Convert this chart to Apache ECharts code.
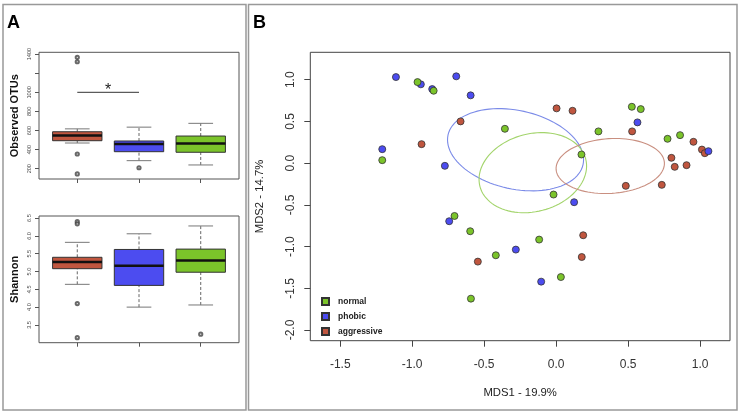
<!DOCTYPE html>
<html>
<head>
<meta charset="utf-8">
<script src="https://cdn.jsdelivr.net/npm/echarts@6/dist/echarts.min.js"></script>
<style>
html, body { margin: 0; padding: 0; background: #fff; }
#chart { width: 740px; height: 416px; }
</style>
</head>
<body>
<div id="chart"></div>
<script>
var dom = document.getElementById('chart');
var myChart = echarts.init(dom, null, { renderer: 'canvas' });

var FONT = '"Liberation Sans", Arial, sans-serif';

// panel A groups, left to right
var groupNames = ['aggressive', 'phobic', 'normal'];
var groupColors = ['#c0563f', '#4c4cf0', '#7bc42a'];

// min, Q1, median, Q3, max
var otusBoxes = [
    [469, 493, 548, 587, 617],
    [284, 378, 459, 490, 635],
    [239, 372, 464, 542, 675]
];
var otusOutliers = [[1366, 1320, 354, 145], [210], []];
var otusTicks = [200, 400, 600, 800, 1000, 1200, 1400];
var sigLine = [1, 2, 1000];

var shannonBoxes = [
    [4.64, 5.08, 5.27, 5.40, 5.82],
    [4.00, 4.61, 5.16, 5.62, 6.06],
    [4.06, 4.98, 5.31, 5.63, 6.28]
];
var shannonOutliers = [[6.40, 6.34, 4.10, 3.14], [], [3.24]];
var shannonTicks = [3.5, 4, 4.5, 5, 5.5, 6, 6.5];

// panel B, MDS coordinates
var normalPts = [
    [-0.963, 0.972], [-0.851, 0.868], [-1.208, 0.036], [0.526, 0.676], [0.588, 0.648],
    [-0.356, 0.412], [0.294, 0.381], [0.774, 0.292], [0.861, 0.336], [0.176, 0.104],
    [-0.018, -0.376], [-0.706, -0.633], [-0.597, -0.816], [-0.419, -1.104], [-0.592, -1.624],
    [-0.118, -0.916], [0.033, -1.365]
];
var phobicPts = [
    [-1.113, 1.032], [-0.940, 0.945], [-0.861, 0.888], [-0.694, 1.041], [-0.594, 0.813],
    [-1.208, 0.168], [-0.773, -0.032], [0.565, 0.489], [1.058, 0.144], [0.125, -0.468],
    [-0.743, -0.696], [-0.280, -1.036], [-0.104, -1.420]
];
var aggressivePts = [
    [-0.664, 0.501], [-0.935, 0.228], [0.003, 0.657], [0.114, 0.628], [0.528, 0.381],
    [0.954, 0.256], [1.013, 0.163], [1.033, 0.120], [0.801, 0.064], [0.824, -0.044],
    [0.906, -0.024], [0.484, -0.272], [0.734, -0.260], [-0.544, -1.180], [0.188, -0.864],
    [0.178, -1.125]
];

// centre x, centre y, half axis u (x, y), half axis v (x, y)
var ellipsePhobic = [-0.282, 0.161, 0.469, -0.1774, -0.0582, -0.4597];
var ellipseNormal = [-0.162, -0.114, 0.3675, 0.164, 0.0674, -0.4514];
var ellipseAggressive = [0.376, -0.034, 0.3762, 0.0406, 0.0118, -0.3277];
var ellipseColors = ['#7b8be8', '#a3d46c', '#c98f80'];

var mdsXTicks = [-1.5, -1, -0.5, 0, 0.5, 1];
var mdsYTicks = [-2, -1.5, -1, -0.5, 0, 0.5, 1];

function withIndex(boxes) {
    return boxes.map(function (b, i) {
        return [i + 1].concat(b);
    });
}

function outlierPoints(list) {
    var res = [];
    list.forEach(function (vals, i) {
        vals.forEach(function (v) {
            res.push([i + 1, v]);
        });
    });
    return res;
}

function renderBox(params, api) {
    var x = api.value(0);
    var lo = api.value(1), q1 = api.value(2), med = api.value(3), q3 = api.value(4), hi = api.value(5);
    var pLo = api.coord([x, lo]), pQ1 = api.coord([x, q1]), pQ3 = api.coord([x, q3]), pHi = api.coord([x, hi]);
    var capL = api.coord([x - 0.2, lo]), capR = api.coord([x + 0.2, lo]);
    var capL2 = api.coord([x - 0.2, hi]), capR2 = api.coord([x + 0.2, hi]);
    var b1 = api.coord([x - 0.4, q1]), b2 = api.coord([x + 0.4, q3]);
    var m1 = api.coord([x - 0.4, med]), m2 = api.coord([x + 0.4, med]);
    var whisker = { stroke: '#666', lineWidth: 1, lineDash: [3, 2] };
    var cap = { stroke: '#777', lineWidth: 1 };
    return {
        type: 'group',
        children: [
            { type: 'line', shape: { x1: pLo[0], y1: pLo[1], x2: pQ1[0], y2: pQ1[1] }, style: whisker },
            { type: 'line', shape: { x1: pQ3[0], y1: pQ3[1], x2: pHi[0], y2: pHi[1] }, style: whisker },
            { type: 'line', shape: { x1: capL[0], y1: capL[1], x2: capR[0], y2: capR[1] }, style: cap },
            { type: 'line', shape: { x1: capL2[0], y1: capL2[1], x2: capR2[0], y2: capR2[1] }, style: cap },
            {
                type: 'rect',
                shape: { x: b1[0], y: b2[1], width: b2[0] - b1[0], height: b1[1] - b2[1] },
                style: { fill: groupColors[params.dataIndex], stroke: '#333', lineWidth: 1 }
            },
            { type: 'line', shape: { x1: m1[0], y1: m1[1], x2: m2[0], y2: m2[1] }, style: { stroke: '#111', lineWidth: 2.5 } }
        ]
    };
}

function renderSig(params, api) {
    var a = api.coord([api.value(0), api.value(2)]);
    var b = api.coord([api.value(1), api.value(2)]);
    return {
        type: 'group',
        children: [
            { type: 'line', shape: { x1: a[0], y1: a[1], x2: b[0], y2: b[1] }, style: { stroke: '#333', lineWidth: 1 } },
            {
                type: 'text',
                style: {
                    x: (a[0] + b[0]) / 2, y: a[1] - 2, text: '*',
                    font: '16px ' + FONT, fill: '#222', align: 'center', verticalAlign: 'middle'
                }
            }
        ]
    };
}

function renderEllipse(params, api) {
    var cx = api.value(0), cy = api.value(1);
    var ux = api.value(2), uy = api.value(3), vx = api.value(4), vy = api.value(5);
    var pts = [];
    for (var k = 0; k < 96; k++) {
        var t = k / 96 * Math.PI * 2;
        pts.push(api.coord([cx + ux * Math.cos(t) + vx * Math.sin(t), cy + uy * Math.cos(t) + vy * Math.sin(t)]));
    }
    return {
        type: 'polygon',
        shape: { points: pts },
        style: { fill: 'none', stroke: ellipseColors[params.dataIndex], lineWidth: 1.1 }
    };
}

function boxXAxis(gridIndex) {
    return {
        type: 'value', gridIndex: gridIndex, min: 0.38, max: 3.62,
        axisLine: { show: false, onZero: false },
        splitLine: { show: false },
        axisTick: { show: true, length: 4, customValues: [1, 2, 3], lineStyle: { color: '#555' } },
        axisLabel: { show: false }
    };
}

function boxYAxis(gridIndex, min, max, ticks, name, fmt) {
    return {
        type: 'value', gridIndex: gridIndex, min: min, max: max,
        name: name, nameLocation: 'middle', nameRotate: 90, nameGap: 19,
        nameTextStyle: { fontFamily: FONT, fontWeight: 'bold', fontSize: 11, color: '#111' },
        axisLine: { show: false, onZero: false },
        splitLine: { show: false },
        axisTick: { show: true, length: 4, customValues: ticks, lineStyle: { color: '#555' } },
        axisLabel: {
            show: true, customValues: ticks, rotate: 90, margin: 7,
            fontFamily: FONT, fontSize: 5.6, color: '#444', formatter: fmt
        }
    };
}

var option = {
    animation: false,
    backgroundColor: '#fff',
    grid: [
        { left: 39, top: 52.3, width: 200, height: 126.7, show: true, borderColor: '#555', borderWidth: 1, backgroundColor: 'transparent' },
        { left: 39, top: 216, width: 200, height: 126.7, show: true, borderColor: '#555', borderWidth: 1, backgroundColor: 'transparent' },
        { left: 310.3, top: 52.3, width: 419.7, height: 288.4, show: true, borderColor: '#444', borderWidth: 1, backgroundColor: 'transparent' }
    ],
    xAxis: [
        boxXAxis(0),
        boxXAxis(1),
        {
            type: 'value', gridIndex: 2, min: -1.708, max: 1.208,
            name: 'MDS1 - 19.9%', nameLocation: 'middle', nameGap: 47,
            nameTextStyle: { fontFamily: FONT, fontSize: 11.3, color: '#222' },
            axisLine: { show: false, onZero: false },
            splitLine: { show: false },
            axisTick: { show: true, length: 6, customValues: mdsXTicks, lineStyle: { color: '#444' } },
            axisLabel: {
                show: true, customValues: mdsXTicks, margin: 18,
                fontFamily: FONT, fontSize: 12, color: '#333',
                formatter: function (v) { return v.toFixed(1); }
            }
        }
    ],
    yAxis: [
        boxYAxis(0, 92, 1419, otusTicks, 'Observed OTUs', function (v) { return v === 1200 ? '' : String(v); }),
        boxYAxis(1, 3.0, 6.56, shannonTicks, 'Shannon', function (v) { return v.toFixed(1); }),
        {
            type: 'value', gridIndex: 2, min: -2.128, max: 1.329,
            name: 'MDS2 - 14.7%', nameLocation: 'middle', nameRotate: 90, nameGap: 45,
            nameTextStyle: { fontFamily: FONT, fontSize: 11.3, color: '#222' },
            axisLine: { show: false, onZero: false },
            splitLine: { show: false },
            axisTick: { show: true, length: 6, customValues: mdsYTicks, lineStyle: { color: '#444' } },
            axisLabel: {
                show: true, customValues: mdsYTicks, rotate: 90, margin: 14,
                fontFamily: FONT, fontSize: 12, color: '#333',
                formatter: function (v) { return v.toFixed(1); }
            }
        }
    ],
    legend: {
        orient: 'vertical', left: 316, top: 292,
        data: ['normal', 'phobic', 'aggressive'],
        icon: 'rect', itemWidth: 7, itemHeight: 7, itemGap: 6,
        textStyle: { fontFamily: FONT, fontWeight: 'bold', fontSize: 8.5, color: '#222', padding: [0, 0, 0, 4] }
    },
    graphic: [
        { type: 'rect', shape: { x: 3, y: 4.5, width: 243, height: 405.5 }, style: { fill: 'none', stroke: '#999', lineWidth: 1.5 }, silent: true },
        { type: 'rect', shape: { x: 248.5, y: 4.5, width: 488.5, height: 405.5 }, style: { fill: 'none', stroke: '#999', lineWidth: 1.5 }, silent: true },
        { type: 'text', left: 7, top: 14, style: { text: 'A', font: 'bold 18px ' + FONT, fill: '#000' } },
        { type: 'text', left: 253, top: 14, style: { text: 'B', font: 'bold 18px ' + FONT, fill: '#000' } }
    ],
    series: [
        {
            type: 'custom', xAxisIndex: 0, yAxisIndex: 0,
            data: withIndex(otusBoxes), encode: { x: 0, y: [1, 2, 3, 4, 5] },
            renderItem: renderBox
        },
        {
            type: 'scatter', xAxisIndex: 0, yAxisIndex: 0, data: outlierPoints(otusOutliers),
            symbol: 'emptyCircle', symbolSize: 3.2, itemStyle: { color: '#444', borderWidth: 0.8 }
        },
        {
            type: 'custom', xAxisIndex: 0, yAxisIndex: 0,
            data: [sigLine], encode: { x: [0, 1], y: 2 },
            renderItem: renderSig
        },
        {
            type: 'custom', xAxisIndex: 1, yAxisIndex: 1,
            data: withIndex(shannonBoxes), encode: { x: 0, y: [1, 2, 3, 4, 5] },
            renderItem: renderBox
        },
        {
            type: 'scatter', xAxisIndex: 1, yAxisIndex: 1, data: outlierPoints(shannonOutliers),
            symbol: 'emptyCircle', symbolSize: 3.2, itemStyle: { color: '#444', borderWidth: 0.8 }
        },
        {
            type: 'custom', xAxisIndex: 2, yAxisIndex: 2,
            data: [ellipsePhobic, ellipseNormal, ellipseAggressive], encode: { x: 0, y: 1 },
            renderItem: renderEllipse
        },
        {
            name: 'aggressive', type: 'scatter', xAxisIndex: 2, yAxisIndex: 2, data: aggressivePts,
            symbolSize: 7, itemStyle: { color: groupColors[0], borderColor: '#333', borderWidth: 0.8, opacity: 1 }
        },
        {
            name: 'phobic', type: 'scatter', xAxisIndex: 2, yAxisIndex: 2, data: phobicPts,
            symbolSize: 7, itemStyle: { color: groupColors[1], borderColor: '#333', borderWidth: 0.8, opacity: 1 }
        },
        {
            name: 'normal', type: 'scatter', xAxisIndex: 2, yAxisIndex: 2, data: normalPts,
            symbolSize: 7, itemStyle: { color: groupColors[2], borderColor: '#333', borderWidth: 0.8, opacity: 1 }
        }
    ]
};

if (option && typeof option === 'object') {
    myChart.setOption(option, true);
}
</script>
</body>
</html>
